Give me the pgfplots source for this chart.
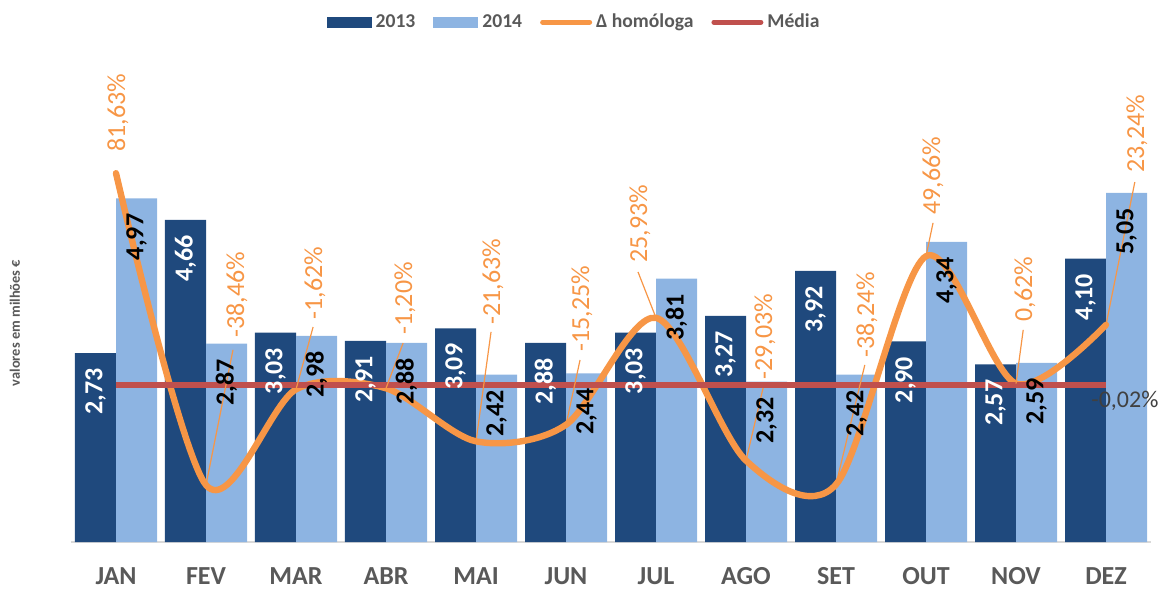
\documentclass[border=0pt]{standalone}
\usepackage{fontspec}
\setmainfont{Carlito}
\usepackage{pgfplots}
\pgfplotsset{compat=1.18}
\usepackage{pgfplotstable}

\definecolor{c13}{RGB}{31,73,125}
\definecolor{c14}{RGB}{141,180,226}
\definecolor{corange}{RGB}{247,150,70}
\definecolor{cred}{RGB}{192,80,77}
\definecolor{cgray}{RGB}{89,89,89}
\definecolor{cdark}{RGB}{64,64,64}
\definecolor{caxis}{RGB}{217,217,217}

\pgfplotstableread{
x v13 v14
0 2.73 4.97
1 4.66 2.87
2 3.03 2.98
3 2.91 2.88
4 3.09 2.42
5 2.88 2.44
6 3.03 3.81
7 3.27 2.32
8 3.92 2.42
9 2.90 4.34
10 2.57 2.59
11 4.10 5.05
}\bars

\pgfplotstableread{
x pct
0 81.63
1 -38.46
2 -1.62
3 -1.20
4 -21.63
5 -15.25
6 25.93
7 -29.03
8 -38.24
9 49.66
10 0.62
11 23.24
}\delta

\pgfplotstableread{
x med
0 -0.02
11 -0.02
}\media

\pgfplotstableread{
lx ly pct
0.02 89.8 81.63
1.344 18.2 -38.46
2.211 25.1 -1.62
3.211 19.3 -1.20
4.189 23.2 -21.63
5.178 12.8 -15.25
5.822 47.1 25.93
7.211 2.0 -29.03
8.344 10.5 -38.24
9.078 65.5 49.66
10.10 24.3 0.62
11.344 81.7 23.24
}\plabels

\pgfplotstableread{
x y
1 -38.46
1.30 13.6
nan nan
2 -1.62
2.19 22.4
nan nan
3 -1.20
3.19 16.2
nan nan
4 -21.63
4.167 20.5
nan nan
5 -15.25
5.156 9.7
nan nan
6 25.93
5.80 43.6
nan nan
7 -29.03
7.19 -1.1
nan nan
8 -38.24
8.32 7.8
nan nan
9 49.66
9.078 62.5
nan nan
10 0.62
10.08 21.3
nan nan
11 23.24
11.32 78.2
}\leaders

\pgfplotsset{
  base/.style={
    scale only axis, width=540pt, height=242pt,
    at={(35.5pt,23.5pt)}, anchor=south west,
    xmin=-0.5, xmax=11.5, enlargelimits=false, clip=false,
  },
  barlab/.style={
    /pgf/number format/fixed, /pgf/number format/fixed zerofill,
    /pgf/number format/precision=2, /pgf/number format/use comma,
    /pgf/number format/assume math mode=true,
  },
  barleg/.style={legend image code/.code={\fill[##1] (0pt,-2.75pt) rectangle (22.5pt,2.75pt);}},
  lineleg/.style={legend image code/.code={\draw[##1] (0pt,0pt) -- (23.5pt,0pt);}},
}

\begin{document}
\begin{tikzpicture}
\useasboundingbox (0,0) rectangle (580.5pt,294.5pt);

% Primary axis: bars, ticks, legend
\begin{axis}[base,
  ymin=0, ymax=7,
  ybar, bar width=0.4556,
  axis x line*=bottom, axis y line*=left,
  y axis line style={draw=none},
  x axis line style={draw=caxis, line width=0.8pt},
  ytick=\empty,
  xtick={0,...,11},
  xticklabels={JAN,FEV,MAR,ABR,MAI,JUN,JUL,AGO,SET,OUT,NOV,DEZ},
  major tick length=0pt,
  xticklabel style={font=\bfseries\fontsize{13}{15}\selectfont, text=cgray,
    inner ysep=0.5pt, yshift=-12pt},
  ylabel={valores em milhões €},
  every axis y label/.style={at={(axis description cs:-0.0519,0.4525)}, rotate=90, anchor=center,
    font=\bfseries\fontsize{7.2}{8.5}\selectfont, text=cgray},
  legend columns=4,
  legend style={draw=none, fill=none, at={(0.4667,1.074)}, anchor=center,
    font=\bfseries\fontsize{9.8}{11}\selectfont, text=cgray,
    /tikz/every even column/.append style={column sep=7pt},
    /tikz/every odd column/.append style={column sep=0pt}},
  legend cell align=left,
]
\addplot[fill=c13, draw=none, bar shift=-0.2278, barleg]
  table[x=x, y=v13] {\bars};
\addplot[fill=c14, draw=none, bar shift=0.2278, barleg]
  table[x=x, y=v14] {\bars};
\addlegendimage{corange, line width=2.5pt, line cap=round, lineleg}
\addlegendimage{cred, line width=2.5pt, line cap=round, lineleg}
\legend{2013,2014,Δ homóloga,Média}
\end{axis}

% Secondary axis: percentage change and mean
\begin{axis}[base, ymin=-60.4, ymax=126, hide axis]
\addplot[corange, line width=3.2pt, smooth, line cap=round, mark=none]
  table[x=x, y=pct] {\delta};
\addplot[cred, line width=3pt, mark=none] table[x=x, y=med] {\media};
\addplot[corange, line width=0.6pt, mark=none, unbounded coords=jump]
  table[x=x, y=y] {\leaders};
\addplot[draw=none, mark=none, point meta=explicit,
  nodes near coords={\pgfmathprintnumber[fixed,fixed zerofill,precision=2,use comma,assume math mode=true]{\pgfplotspointmeta}\%},
  nodes near coords style={rotate=90, anchor=west, inner sep=0pt,
    font=\fontsize{13}{15}\selectfont, text=corange}]
  table[x=lx, y=ly, meta=pct] {\plabels};
\addplot[draw=none, mark=none, nodes near coords={-0,02\%},
  nodes near coords style={anchor=center, inner sep=0pt,
    font=\fontsize{12}{14}\selectfont, text=cdark}]
  coordinates {(11.21,-6.2)};
\end{axis}

% Label axis: bar value labels on top
\begin{axis}[base, ymin=0, ymax=7, hide axis, ybar, bar width=0.4556]
\addplot[draw=none, fill=none, bar shift=-0.2278, barlab,
  nodes near coords,
  nodes near coords style={rotate=90, anchor=east, inner xsep=7.5pt, inner ysep=0pt,
    font=\bfseries\fontsize{13}{15}\selectfont, text=white}]
  table[x=x, y=v13] {\bars};
\addplot[draw=none, fill=none, bar shift=0.2278, barlab,
  nodes near coords,
  nodes near coords style={rotate=90, anchor=east, inner xsep=7.5pt, inner ysep=0pt,
    font=\bfseries\fontsize{13}{15}\selectfont, text=black}]
  table[x=x, y=v14] {\bars};
\end{axis}
\end{tikzpicture}
\end{document}
